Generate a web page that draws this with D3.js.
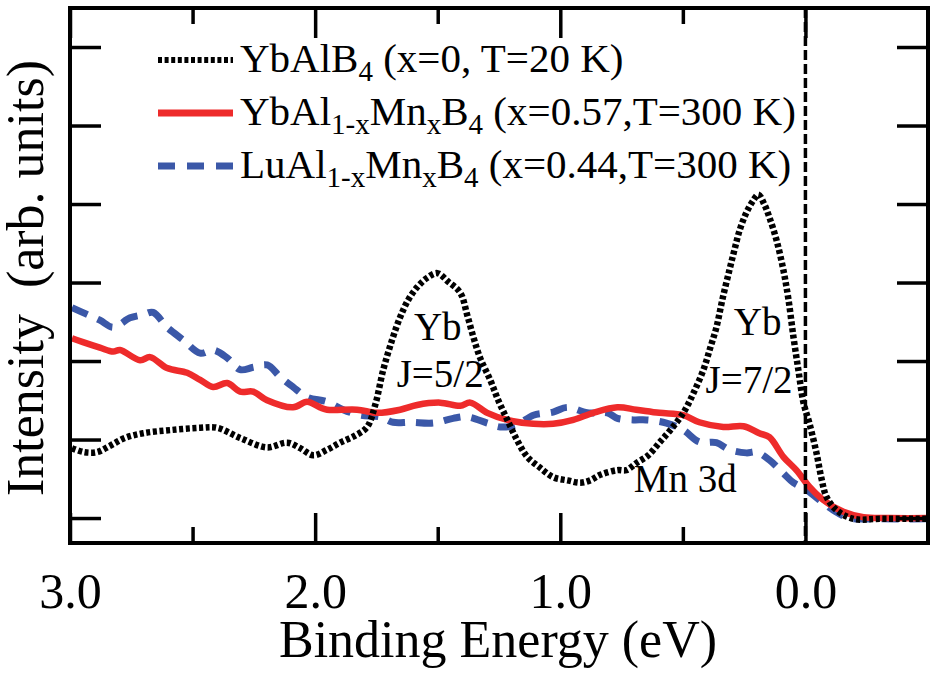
<!DOCTYPE html>
<html>
<head>
<meta charset="utf-8">
<script src="https://cdn.jsdelivr.net/npm/d3@7"></script>
<style>
  body { margin: 0; background: #fff; }
</style>
</head>
<body>
<svg id="chart" width="936" height="675"></svg>
<script>
// binding energy (eV) and intensity (arb. units, 1 unit = one y tick)
const ybE = [2.992,2.943,2.890,2.837,2.776,2.702,2.592,2.469,2.400,2.306,2.196,2.114,2.061,2.008,1.951,1.898,1.837,1.788,1.755,1.722,1.686,1.653,1.620,1.584,1.543,1.502,1.457,1.408,1.380,1.355,1.327,1.286,1.253,1.216,1.176,1.135,1.082,1.029,0.971,0.918,0.878,0.837,0.767,0.731,0.690,0.641,0.596,0.551,0.498,0.457,0.416,0.388,0.363,0.339,0.310,0.290,0.269,0.241,0.212,0.192,0.167,0.147,0.118,0.090,0.069,0.049,0.029,0.008,-0.016,-0.045,-0.065,-0.086,-0.127,-0.196,-0.306,-0.502];
const ybI = [0.89,0.84,0.84,0.92,1.02,1.08,1.12,1.15,1.15,1.02,0.90,0.96,0.89,0.80,0.87,0.96,1.05,1.16,1.44,1.89,2.27,2.56,2.78,2.94,3.06,3.12,3.01,2.87,2.59,2.31,2.04,1.76,1.50,1.25,0.99,0.78,0.64,0.52,0.48,0.45,0.48,0.55,0.61,0.61,0.70,0.80,0.96,1.12,1.34,1.59,1.89,2.17,2.43,2.78,3.16,3.41,3.66,3.89,4.05,4.12,3.99,3.83,3.54,3.16,2.78,2.31,1.89,1.47,1.21,0.83,0.51,0.27,0.10,-0.01,-0.01,-0.01];

const mnE = [2.992,2.947,2.878,2.824,2.796,2.714,2.673,2.604,2.522,2.469,2.416,2.359,2.306,2.253,2.196,2.090,2.033,1.980,1.951,1.829,1.747,1.653,1.584,1.490,1.408,1.367,1.298,1.216,1.110,1.029,0.947,0.865,0.767,0.690,0.596,0.498,0.433,0.335,0.253,0.188,0.147,0.090,0.037,-0.016,-0.073,-0.155,-0.237,-0.347,-0.502];
const mnI = [2.29,2.24,2.17,2.12,2.14,2.01,2.05,1.91,1.85,1.76,1.67,1.72,1.61,1.61,1.50,1.41,1.48,1.41,1.38,1.38,1.34,1.38,1.44,1.47,1.43,1.47,1.34,1.25,1.20,1.20,1.25,1.34,1.41,1.38,1.34,1.31,1.22,1.16,1.17,1.08,1.03,0.78,0.61,0.40,0.23,0.08,0.01,0.00,0.00];

const luE = [2.992,2.935,2.878,2.824,2.755,2.702,2.661,2.604,2.539,2.469,2.416,2.359,2.306,2.253,2.196,2.143,2.090,2.033,1.951,1.886,1.816,1.735,1.682,1.612,1.518,1.437,1.380,1.298,1.245,1.176,1.110,1.029,0.971,0.890,0.808,0.767,0.702,0.649,0.567,0.498,0.433,0.363,0.310,0.241,0.200,0.147,0.090,0.049,-0.004,-0.057,-0.114,-0.180,-0.306,-0.502];
const luI = [2.68,2.60,2.52,2.43,2.55,2.59,2.62,2.43,2.27,2.10,2.14,2.04,1.89,1.92,1.95,1.80,1.67,1.54,1.48,1.38,1.31,1.29,1.22,1.22,1.21,1.27,1.29,1.21,1.16,1.19,1.31,1.35,1.41,1.34,1.34,1.27,1.25,1.25,1.21,1.12,0.97,0.96,0.87,0.83,0.84,0.74,0.57,0.45,0.36,0.23,0.10,0.00,-0.01,-0.01];

const xTicks = [3.0, 2.0, 1.0, 0.0];
const xMinor = [2.5, 1.5, 0.5];
const yTicks = [0, 1, 2, 3, 4, 5, 6];

const seriesNames = [
  [["YbAlB", 0], ["4", 1], [" (x=0, T=20 K)", 0]],
  [["YbAl", 0], ["1-x", 1], ["Mn", 0], ["x", 1], ["B", 0], ["4", 1], [" (x=0.57,T=300 K)", 0]],
  [["LuAl", 0], ["1-x", 1], ["Mn", 0], ["x", 1], ["B", 0], ["4", 1], [" (x=0.44,T=300 K)", 0]]
];
const notes = [
  {t: "Yb", e: 1.50, v: 2.27, anchor: "middle"},
  {t: "J=5/2", e: 1.49, v: 1.67, anchor: "middle"},
  {t: "Yb", e: 0.195, v: 2.33, anchor: "middle"},
  {t: "J=7/2", e: 0.23, v: 1.59, anchor: "middle"},
  {t: "Mn 3d", e: 0.70, v: 0.33, anchor: "start"}
];

const FONT = "'Liberation Serif'";

const svg = d3.select("#chart");
const L = 70, R = 928, T = 8, B = 543;

const x = d3.scaleLinear().domain([3.0, -0.5]).range([L, R]);
const y = d3.scaleLinear().domain([-0.318, 6.497]).range([B, T]);

svg.append("clipPath").attr("id", "clip")
  .append("rect").attr("x", L).attr("y", T).attr("width", R - L).attr("height", B - T);

const series = [
  {e: ybE, v: ybI, color: "#000", dash: "4,2.6", w: 6.5},
  {e: mnE, v: mnI, color: "#ee2b2b", dash: null, w: 6.5},
  {e: luE, v: luI, color: "#3b58a8", dash: "17,11", w: 7}
];

const line = d3.line()
  .x(d => x(d[0]))
  .y(d => y(d[1]))
  .curve(d3.curveCatmullRom.alpha(0.5));

const plot = svg.append("g").attr("clip-path", "url(#clip)");

// draw order: blue, red, black on top
[2, 1, 0].forEach(i => {
  const s = series[i];
  plot.append("path")
    .datum(d3.zip(s.e, s.v))
    .attr("fill", "none")
    .attr("stroke", s.color)
    .attr("stroke-width", s.w)
    .attr("stroke-dasharray", s.dash)
    .attr("d", line);
});

// Fermi level
plot.append("line")
  .attr("x1", x(0)).attr("x2", x(0))
  .attr("y1", T).attr("y2", B)
  .attr("stroke", "#000").attr("stroke-width", 3.5)
  .attr("stroke-dasharray", "10,4");

// axes
function styleAxis(g) {
  g.attr("font-family", null);
  g.select(".domain").remove();
  g.selectAll("line").attr("stroke", "#000").attr("stroke-width", 3.5);
}

svg.append("g").attr("transform", `translate(0,${B})`)
  .call(d3.axisBottom(x).tickValues(xTicks).tickSizeInner(-30).tickSizeOuter(0)
    .tickPadding(29).tickFormat(d3.format(".1f")))
  .call(styleAxis)
  .selectAll("text")
  .style("font-family", FONT).style("font-size", "50px").attr("fill", "#000");

svg.append("g").attr("transform", `translate(0,${B})`)
  .call(d3.axisBottom(x).tickValues(xMinor).tickSizeInner(-16).tickSizeOuter(0).tickFormat(""))
  .call(styleAxis);

svg.append("g").attr("transform", `translate(0,${T})`)
  .call(d3.axisTop(x).tickValues(xTicks).tickSizeInner(-30).tickSizeOuter(0).tickFormat(""))
  .call(styleAxis);

svg.append("g").attr("transform", `translate(0,${T})`)
  .call(d3.axisTop(x).tickValues(xMinor).tickSizeInner(-16).tickSizeOuter(0).tickFormat(""))
  .call(styleAxis);

svg.append("g").attr("transform", `translate(${L},0)`)
  .call(d3.axisLeft(y).tickValues(yTicks).tickSizeInner(-31).tickSizeOuter(0).tickFormat(""))
  .call(styleAxis);

svg.append("g").attr("transform", `translate(${R},0)`)
  .call(d3.axisRight(y).tickValues(yTicks).tickSizeInner(-31).tickSizeOuter(0).tickFormat(""))
  .call(styleAxis);

svg.append("rect")
  .attr("x", L).attr("y", T).attr("width", R - L).attr("height", B - T)
  .attr("fill", "none").attr("stroke", "#000").attr("stroke-width", 4);

// axis titles
svg.append("text")
  .attr("x", 498).attr("y", 657)
  .attr("text-anchor", "middle")
  .style("font-family", FONT).style("font-size", "52px")
  .text("Binding Energy (eV)");

svg.append("text")
  .attr("transform", "translate(43,278) rotate(-90)")
  .attr("text-anchor", "middle")
  .style("font-family", FONT).style("font-size", "52px")
  .style("white-space", "pre")
  .text("Intensity  (arb. units)");

// legend
const leg = svg.append("g");
seriesNames.forEach((parts, i) => {
  const s = series[i];
  const ly = 60 + i * 53;
  leg.append("line")
    .attr("x1", 158).attr("x2", 233).attr("y1", ly).attr("y2", ly)
    .attr("stroke", s.color).attr("stroke-width", i == 0 ? 6 : 7)
    .attr("stroke-dasharray", i == 2 ? "17,12" : s.dash);
  const txt = leg.append("text")
    .attr("x", 240).attr("y", ly + 12)
    .style("font-family", FONT).style("font-size", "41px")
    .style("white-space", "pre");
  let down = false;
  parts.forEach(p => {
    const sub = p[1] == 1;
    const ts = txt.append("tspan").text(p[0]);
    if (sub) ts.style("font-size", "29px");
    if (sub && !down) { ts.attr("dy", 9); down = true; }
    else if (!sub && down) { ts.attr("dy", -9); down = false; }
  });
});

// peak labels
svg.append("g").selectAll("text")
  .data(notes)
  .join("text")
  .attr("x", d => x(d.e)).attr("y", d => y(d.v))
  .attr("text-anchor", d => d.anchor)
  .style("font-family", FONT).style("font-size", "39px")
  .text(d => d.t);
</script>
</body>
</html>
